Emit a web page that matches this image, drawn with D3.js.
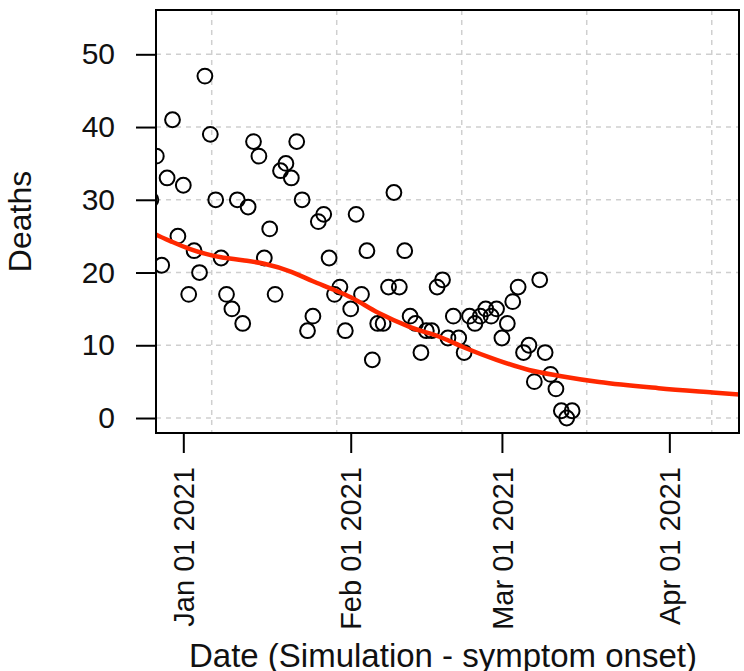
<!DOCTYPE html>
<html>
<head>
<meta charset="utf-8">
<script src="https://cdn.jsdelivr.net/npm/d3@7"></script>
<style>
  html, body { margin: 0; padding: 0; background: #fff; }
  svg { display: block; font-family: "Liberation Sans", Arial, Helvetica, sans-serif; }
</style>
</head>
<body>
<svg id="chart" width="744" height="671"></svg>
<script>
// ---- data ----
const dates = [
  "2020-12-26","2020-12-27","2020-12-28","2020-12-29","2020-12-30","2020-12-31",
  "2021-01-01","2021-01-02","2021-01-03","2021-01-04","2021-01-05","2021-01-06","2021-01-07",
  "2021-01-08","2021-01-09","2021-01-10","2021-01-11","2021-01-12","2021-01-13","2021-01-14",
  "2021-01-15","2021-01-16","2021-01-17","2021-01-18","2021-01-19","2021-01-20","2021-01-21",
  "2021-01-22","2021-01-23","2021-01-24","2021-01-25","2021-01-26","2021-01-27","2021-01-28",
  "2021-01-29","2021-01-30","2021-01-31",
  "2021-02-01","2021-02-02","2021-02-03","2021-02-04","2021-02-05","2021-02-06","2021-02-07",
  "2021-02-08","2021-02-09","2021-02-10","2021-02-11","2021-02-12","2021-02-13","2021-02-14",
  "2021-02-15","2021-02-16","2021-02-17","2021-02-18","2021-02-19","2021-02-20","2021-02-21",
  "2021-02-22","2021-02-23","2021-02-24","2021-02-25","2021-02-26","2021-02-27","2021-02-28",
  "2021-03-01","2021-03-02","2021-03-03","2021-03-04","2021-03-05","2021-03-06","2021-03-07",
  "2021-03-08","2021-03-09","2021-03-10","2021-03-11","2021-03-12","2021-03-13","2021-03-14"
];
const deaths = [
  30,36,21,33,41,25,
  32,17,23,20,47,39,30,
  22,17,15,30,13,29,38,
  36,22,26,17,34,35,33,
  38,30,12,14,27,28,22,
  17,18,12,
  15,28,17,23,8,13,13,
  18,31,18,23,14,13,9,
  12,12,18,19,11,14,11,
  9,14,13,14,15,14,15,
  11,13,16,18,9,10,5,
  19,9,6,4,1,0,1
];

// smoothed trend
const fitDates = [
  "2020-12-26","2020-12-27","2020-12-30","2021-01-02","2021-01-05","2021-01-08",
  "2021-01-12","2021-01-16","2021-01-21","2021-01-25","2021-01-29","2021-02-01",
  "2021-02-06","2021-02-12","2021-02-18","2021-02-22","2021-02-28","2021-03-06",
  "2021-03-12","2021-03-19","2021-03-30","2021-04-09","2021-04-16"
];
const fitValues = [
  25.6,25.2,24.2,23.3,22.6,22.1,
  21.7,21.2,20.1,18.8,17.6,16.6,
  14.5,12.5,11.0,9.7,8.0,6.6,
  5.75,4.95,4.1,3.5,3.1
];

const xTickDates = ["2021-01-01","2021-02-01","2021-03-01","2021-04-01"];
const xTickLabels = ["Jan 01 2021","Feb 01 2021","Mar 01 2021","Apr 01 2021"];
const yTicks = [0,10,20,30,40,50];
// vertical grid lines (pretty steps of 2e6 seconds on the time axis)
const xGridDates = ["2021-01-06T06:13:20Z","2021-01-29T09:46:40Z","2021-02-21T13:20:00Z","2021-03-16T16:53:20Z","2021-04-08T20:26:40Z"];

// ---- layout ----
const L = 156, R = 739, T = 10, B = 433;
const svg = d3.select("#chart");
const parse = s => new Date(s.length === 10 ? s + "T00:00:00Z" : s);

const x = d3.scaleUtc()
  .domain([parse("2020-12-26T22:39:00Z"), parse("2021-04-13T21:36:00Z")])
  .range([L, R]);
const y = d3.scaleLinear().domain([-2.06, 56.09]).range([B, T]);

svg.append("defs").append("clipPath").attr("id", "clip")
  .append("rect").attr("x", L).attr("y", T).attr("width", R - L).attr("height", B - T);

// grid
const grid = svg.append("g").attr("stroke", "#cfcfcf").attr("stroke-width", 1.5)
  .attr("stroke-dasharray", "5,5");
grid.selectAll("line.h").data(yTicks).join("line")
  .attr("x1", L).attr("x2", R).attr("y1", d => y(d)).attr("y2", d => y(d));
grid.selectAll("line.v").data(xGridDates).join("line")
  .attr("x1", d => x(parse(d))).attr("x2", d => x(parse(d))).attr("y1", T).attr("y2", B);

// points
const pts = dates.map((d, i) => ({date: parse(d), v: deaths[i]}));
svg.append("g").attr("clip-path", "url(#clip)")
  .selectAll("circle").data(pts).join("circle")
  .attr("cx", d => x(d.date)).attr("cy", d => y(d.v)).attr("r", 7.4)
  .attr("fill", "none").attr("stroke", "#000").attr("stroke-width", 2);

// trend line
const fit = fitDates.map((d, i) => ({date: parse(d), v: fitValues[i]}));
svg.append("g").attr("clip-path", "url(#clip)").append("path")
  .datum(fit)
  .attr("d", d3.line().x(d => x(d.date)).y(d => y(d.v)).curve(d3.curveMonotoneX))
  .attr("fill", "none").attr("stroke", "#ff2800").attr("stroke-width", 4.5)
  .attr("stroke-linecap", "round");

// box
svg.append("rect").attr("x", L).attr("y", T).attr("width", R - L).attr("height", B - T)
  .attr("fill", "none").attr("stroke", "#000").attr("stroke-width", 2);

// y axis
const yAxis = svg.append("g").attr("transform", `translate(${L},0)`)
  .call(d3.axisLeft(y).tickValues(yTicks).tickSize(20).tickPadding(21));
yAxis.select(".domain").remove();
yAxis.selectAll(".tick line").attr("stroke", "#000").attr("stroke-width", 2);
yAxis.selectAll(".tick text").attr("font-size", 30).attr("fill", "#111")
  .attr("font-family", "Liberation Sans, Arial, sans-serif");

// x axis
const xAxis = svg.append("g").attr("transform", `translate(0,${B})`)
  .call(d3.axisBottom(x).tickValues(xTickDates.map(parse)).tickSize(20)
    .tickFormat((d, i) => xTickLabels[i]));
xAxis.select(".domain").remove();
xAxis.selectAll(".tick line").attr("stroke", "#000").attr("stroke-width", 2);
xAxis.selectAll(".tick text").attr("font-size", 29).attr("fill", "#111")
  .attr("font-family", "Liberation Sans, Arial, sans-serif")
  .attr("transform", "rotate(-90)").attr("text-anchor", "end")
  .attr("x", -34).attr("y", 0).attr("dy", "0.35em");

// axis titles
svg.append("text").attr("x", 443).attr("y", 667).attr("text-anchor", "middle")
  .attr("font-size", 33).attr("fill", "#111").text("Date (Simulation - symptom onset)");
svg.append("text").attr("transform", `translate(31,${(T + B) / 2}) rotate(-90)`)
  .attr("text-anchor", "middle").attr("font-size", 32).attr("fill", "#111").text("Deaths");
</script>
</body>
</html>
